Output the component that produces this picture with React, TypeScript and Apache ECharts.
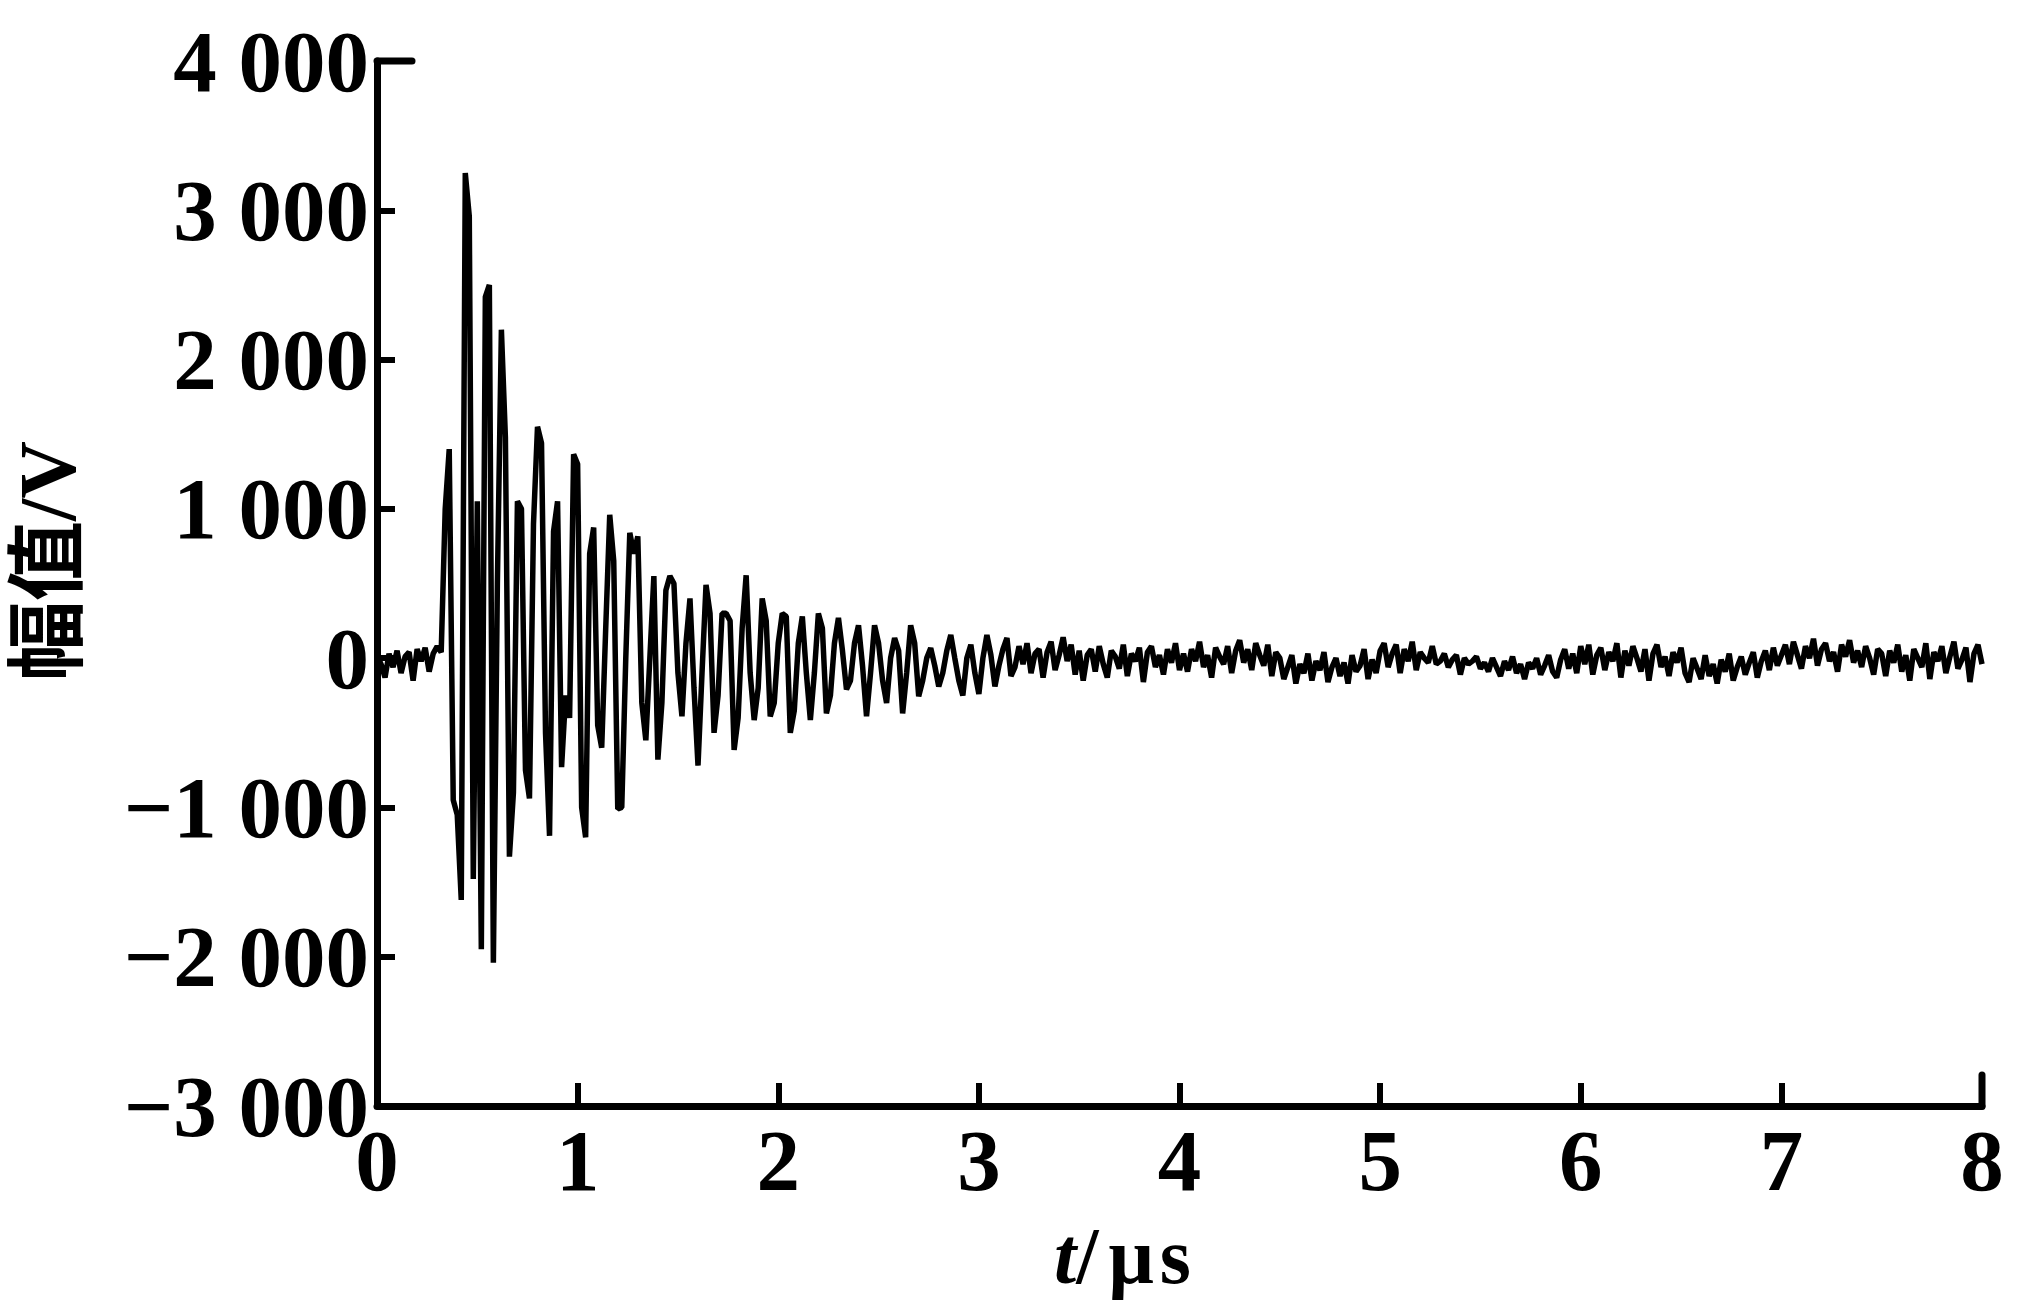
import React, { useEffect, useRef } from "react";
import * as echarts from "echarts";

// sample interval of the recorded waveform, µs
const DT = 0.02;

// amplitude samples (V), in time order
const preTrigger = [20, -40, -130, 30, -60, 50, -100, 10, 40, -150, 60, -20, 70, -90, 30, 80, 40]; // 0.00–0.32 µs
const burst = [
  1000, 1400, -950, -1050, -1620, 3250, 2960, -1480, 1050, -1950,
  2420, 2500, -2040, 500, 2200, 1480, -1330, -900, 1050, 1000,
  -750, -940, 900, 1550, 1440, -500, -1190, 850, 1050, -730,
  -250, -400, 1365, 1300, -1000, -1200, 700, 875, -450, -600,
  200, 960, 650, -1010, -1000, 0, 840, 700,
]; // 0.34–1.28 µs
const ringdown = [
  816, -300, -550, 0, 550, -680, -300, 455, 550, 500,
  -100, -390, 100, 400, -200, -720, -100, 490, 300, -500,
  -250, 300, 300, 250, -615, -400, 200, 555, -100, -415,
  -200, 400, 250, -390, -300, 100, 300, 280, -500, -350,
  100, 280, -100, -415, -100, 300, 200, -370, -250, 100,
  270, 50, -210, -150, 100, 220, -50, -390, -100, 220,
  100, -150, -300, 0, 135, 50, -370, -100, 220, 100,
  -255, -150, 0, 67, -50, -190, -100, 50, 155, 0,
  -150, -250, 0, 90, -100, -240, 0, 155, 20, -190,
  -50, 60, 135,
]; // 1.30–3.14 µs
const tail1 = [-120, -60, 80, -40, 100, -100, 30, 60, -130, 40, 110, -80, 20, 140, -20, 90, -110, 50]; // 3.16–3.50
const tail2 = [-150, 20, 60, -90, 80, -40, -130, 50, 10, -70, 90, -120, 30, -20, 70, -160, 40, 80, -60, 20, -110, 60, -30, 100, -80]; // 3.52–4.00
const tail3 = [30, -90, 60, -20, 110, -60, 20, -130, 70, 10, -40, 80, -100, 50, 120, -30, 60, -80, 100, 20, -50, 90, -120, 40, 0]; // 4.02–4.50
const tail4 = [-140, -60, 20, -170, -40, -100, 30, -150, -20, -80, 40, -160, -60, 0, -120, -30, -170, 20, -90, -50, 60, -140, -10, -100, 50]; // 4.52–5.00
const tail5 = [100, -60, 30, 90, -100, 60, -20, 110, -80, 40, 0, -30, 80, -40, -20, 30, -60, -10, 20, -110, 0, -40, -20, 10, -70]; // 5.02–5.50
const tail6 = [-30, -90, 0, -60, -120, -20, -80, 10, -100, -40, -140, -30, -70, 0, -110, -50, 20, -90, -130, -10, 60, -70, 30, -100, 80]; // 5.52–6.00
const tail7 = [-40, 90, -110, 20, 70, -80, 40, -20, 100, -130, 50, -50, 80, 0, -90, 60, -150, 30, 90, -60, 10, -120, 40, -30, 70]; // 6.02–6.50
const tail8 = [-100, -160, 0, -70, -140, 20, -120, -40, -170, -10, -90, 30, -150, -60, 10, -110, -30, 40, -130, -20, 50, -80, 70, -50, 20]; // 6.52–7.00
const tail9 = [90, -40, 110, 20, -70, 80, 0, 130, -50, 60, 100, -20, 40, -90, 90, 10, 120, -30, 50, -60, 80, 0, -110, 60, 30]; // 7.02–7.50
const tail10 = [-120, 50, -30, 90, -90, 20, -150, 60, 0, -60, 100, -140, 40, -20, 80, -100, 10, 110, -70, -10, 70, -160, 30, 90, -40]; // 7.52–8.00

const xTicks = [0, 1, 2, 3, 4, 5, 6, 7, 8];
const yTicks = [-3000, -2000, -1000, 0, 1000, 2000, 3000, 4000];

const yName = "幅值/V";

const fmtY = (v: number) => {
  const a = Math.abs(v);
  const s = a >= 1000 ? `${Math.floor(a / 1000)} ${String(a % 1000).padStart(3, "0")}` : String(a);
  return (v < 0 ? "\u2212" : "") + s;
};

export default function App() {
  const ref = useRef<HTMLDivElement>(null);
  useEffect(() => {
    document.body.style.margin = "0";
    const chart = echarts.init(ref.current!, null, { renderer: "svg" });
    const samples = [
      ...preTrigger, ...burst, ...ringdown,
      ...tail1, ...tail2, ...tail3, ...tail4, ...tail5,
      ...tail6, ...tail7, ...tail8, ...tail9, ...tail10,
    ];
    const data = samples.map((v, i) => [Math.round(i * DT * 100) / 100, v]);
    const font = "'Liberation Serif', 'Times New Roman', serif";
    chart.setOption({
      animation: false,
      backgroundColor: "#ffffff",
      grid: { left: 377, right: 49, top: 61, bottom: 209, outerBoundsMode: "none" },
      xAxis: {
        type: "value",
        min: xTicks[0],
        max: xTicks[xTicks.length - 1],
        interval: 1,
        axisLine: { onZero: false, lineStyle: { color: "#000", width: 7, cap: "round" } },
        axisTick: { inside: true, length: 23, lineStyle: { color: "#000", width: 6 } },
        axisLabel: {
          margin: 29,
          color: "#000",
          fontFamily: font,
          fontWeight: "bold",
          fontSize: 87,
          lineHeight: 50,
        },
        splitLine: { show: false },
      },
      yAxis: {
        type: "value",
        min: yTicks[0],
        max: yTicks[yTicks.length - 1],
        interval: 1000,
        axisLine: { onZero: false, lineStyle: { color: "#000", width: 7, cap: "round" } },
        axisTick: { inside: true, length: 18, lineStyle: { color: "#000", width: 6 } },
        axisLabel: {
          margin: 8,
          color: "#000",
          fontFamily: font,
          fontWeight: "bold",
          fontSize: 87,
          lineHeight: 50,
          formatter: fmtY,
        },
        splitLine: { show: false },
      },
      series: [
        {
          type: "line",
          data,
          showSymbol: false,
          symbol: "none",
          lineStyle: { color: "#000", width: 5.5 },
          z: 1,
        },
      ],
    });
    const pTop = chart.convertToPixel({ gridIndex: 0 }, [xTicks[0], yTicks[yTicks.length - 1]]) as number[];
    const pEnd = chart.convertToPixel({ gridIndex: 0 }, [xTicks[xTicks.length - 1], yTicks[0]]) as number[];
    chart.setOption({
      graphic: [
        {
          type: "line",
          shape: { x1: pTop[0], y1: pTop[1], x2: pTop[0] + 35, y2: pTop[1] },
          style: { stroke: "#000", lineWidth: 7, lineCap: "round" },
          z: 10,
        },
        {
          type: "line",
          shape: { x1: pEnd[0], y1: pEnd[1], x2: pEnd[0], y2: pEnd[1] - 31 },
          style: { stroke: "#000", lineWidth: 7, lineCap: "round" },
          z: 10,
        },
        {
          type: "text",
          x: 48,
          y: 561,
          rotation: Math.PI / 2,
          style: {
            text: yName,
            fill: "#000",
            font: "bold 80px 'Liberation Serif', 'Noto Sans CJK SC', serif",
            align: "center",
            verticalAlign: "middle",
          },
        },
        {
          type: "text",
          x: 1124,
          y: 1256,
          style: {
            text: "{i|t}{n|/}{s|μ}{s|s}",
            align: "center",
            verticalAlign: "middle",
            rich: {
              i: { fontFamily: font, fontStyle: "italic", fontWeight: "bold", fontSize: 80, fill: "#000" },
              n: { fontFamily: font, fontWeight: "bold", fontSize: 80, fill: "#000", padding: [0, 7, 0, 0] },
              s: { fontFamily: font, fontWeight: "bold", fontSize: 80, fill: "#000", padding: [0, 3, 0, 3] },
            },
          },
        },
      ],
    });
    return () => chart.dispose();
  }, []);
  return <div ref={ref} style={{ width: 2031, height: 1315 }} />;
}
